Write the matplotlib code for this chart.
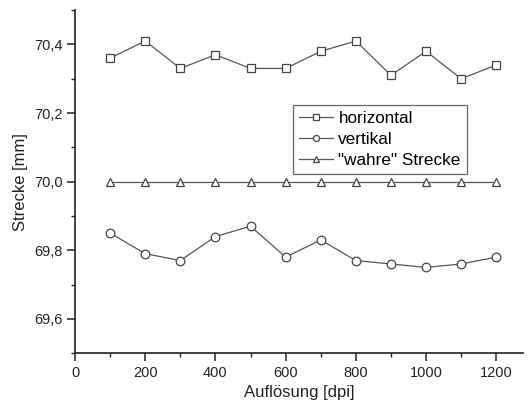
import matplotlib
matplotlib.use("Agg")
import matplotlib.pyplot as plt
from matplotlib.ticker import MultipleLocator, FuncFormatter

plt.rcParams['font.family'] = ['Liberation Sans', 'DejaVu Sans']

dpi = [100, 200, 300, 400, 500, 600, 700, 800, 900, 1000, 1100, 1200]
horizontal = [70.36, 70.41, 70.33, 70.37, 70.33, 70.33, 70.38, 70.41, 70.31, 70.38, 70.30, 70.34]
vertikal = [69.85, 69.79, 69.77, 69.84, 69.87, 69.78, 69.83, 69.77, 69.76, 69.75, 69.76, 69.78]
wahre = [70.0] * 12

fig = plt.figure(figsize=(5.32, 4.05), dpi=100)
ax = fig.add_axes([0.141, 0.128, 0.842, 0.847])

lc = '#555555'
kw = dict(color=lc, lw=0.9, mfc='white', mec='#444444', mew=0.9)
ax.plot(dpi, horizontal, marker='s', ms=5.8, label='horizontal', **kw)
ax.plot(dpi, vertikal, marker='o', ms=6.2, label='vertikal', **kw)
ax.plot(dpi, wahre, marker='^', ms=6.2, label='"wahre" Strecke', **kw)

ax.set_xlim(0, 1276)
ax.set_ylim(69.5, 70.5)
ax.xaxis.set_major_locator(MultipleLocator(200))
ax.xaxis.set_minor_locator(MultipleLocator(100))
ax.yaxis.set_major_locator(MultipleLocator(0.2))
ax.yaxis.set_minor_locator(MultipleLocator(0.1))
ax.yaxis.set_major_formatter(FuncFormatter(lambda v, p: f"{v:.1f}".replace('.', ',')))

for s in ['top', 'right']:
    ax.spines[s].set_visible(False)
for s in ['left', 'bottom']:
    ax.spines[s].set_linewidth(1.2)
    ax.spines[s].set_color('#222222')
ax.tick_params(which='major', direction='out', length=5.5, width=1.1, labelsize=10.5, colors='#222222')
ax.tick_params(which='minor', direction='out', length=3, width=1.0, colors='#222222')

ax.set_xlabel('Auflösung [dpi]', fontsize=12, color='#222222')
ax.set_ylabel('Strecke [mm]', fontsize=12, color='#222222')

leg = ax.legend(loc='upper left', bbox_to_anchor=(0.487, 0.723), borderaxespad=0,
                frameon=True, fancybox=False,
                edgecolor='#444444', fontsize=12.3, handlelength=2.0, handletextpad=0.3,
                borderpad=0.35, labelspacing=0.35, markerscale=0.7)
leg.get_frame().set_linewidth(0.9)

fig.savefig('out.png', dpi=100)
